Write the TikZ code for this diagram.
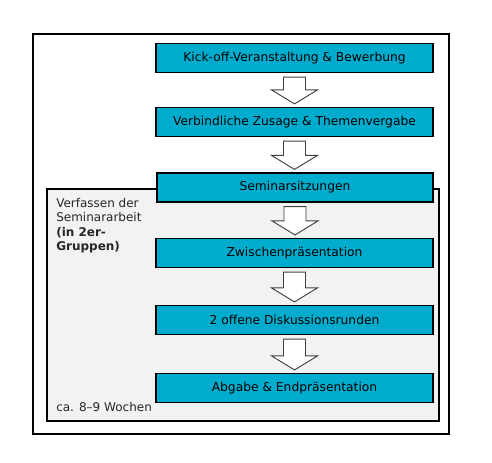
\documentclass[tikz,border=0pt]{standalone}
\usepackage{fontspec}
\setmainfont{DejaVu Sans}
\usetikzlibrary{calc}
\definecolor{boxcyan}{HTML}{00ACCD}
\definecolor{panelgray}{HTML}{F2F2F2}
\tikzset{
  stepbox/.style={draw=black, line width=0.9pt, fill=boxcyan, minimum width=207.75pt, minimum height=21.75pt, inner sep=0pt, font=\fontsize{9.2pt}{11pt}\selectfont, text=black},
  blockarr/.style={draw=black!75, line width=0.7pt, fill=white, line join=miter},
  labeltext/.style={font=\fontsize{9pt}{10.9pt}\selectfont, text=black!85, inner sep=0pt, align=left},
}
\newcommand\blockarrow[2]{%
  \path[blockarr] let \p1=(#1.south), \p2=(#2.north) in
    ($(\x1,\y1)+(-8.25pt,-3pt)$) -- ($(\x1,\y1)+(8.25pt,-3pt)$)
    -- ($(\x1,\y2)+(8.25pt,12.75pt)$) -- ($(\x1,\y2)+(17.25pt,12.75pt)$)
    -- ($(\x1,\y2)+(0pt,2.25pt)$)
    -- ($(\x1,\y2)+(-17.25pt,12.75pt)$) -- ($(\x1,\y2)+(-8.25pt,12.75pt)$) -- cycle;}
\begin{document}
\begin{tikzpicture}[x=0.75pt,y=-0.75pt]
\useasboundingbox (0,0) rectangle (492,463);
\draw[line width=0.9pt, fill=white] (33,34) rectangle (449,434);
\draw[line width=0.9pt, fill=panelgray] (47,189) rectangle (439,421);
\node[stepbox] (s1) at (294.5,58) {Kick-off-Veranstaltung \& Bewerbung};
\node[stepbox] (s2) at (294.5,122) {Verbindliche Zusage \& Themenvergabe};
\node[stepbox, minimum width=207pt] (s3) at (295,187.5) {Seminarsitzungen};
\node[stepbox] (s4) at (294.5,253) {Zwischenpräsentation};
\node[stepbox] (s5) at (294.5,320) {2 offene Diskussionsrunden};
\node[stepbox] (s6) at (294.5,388) {Abgabe \& Endpräsentation};
\blockarrow{s1}{s2}
\blockarrow{s2}{s3}
\blockarrow{s3}{s4}
\blockarrow{s4}{s5}
\blockarrow{s5}{s6}
\node[labeltext, anchor=north west] (lbl) at (56,198) {Verfassen der\\Seminararbeit\\\textbf{(in 2er-}\\\textbf{Gruppen)}};
\node[labeltext, anchor=base west] (dur) at (56,411) {ca. 8–9 Wochen};
\end{tikzpicture}
\end{document}
